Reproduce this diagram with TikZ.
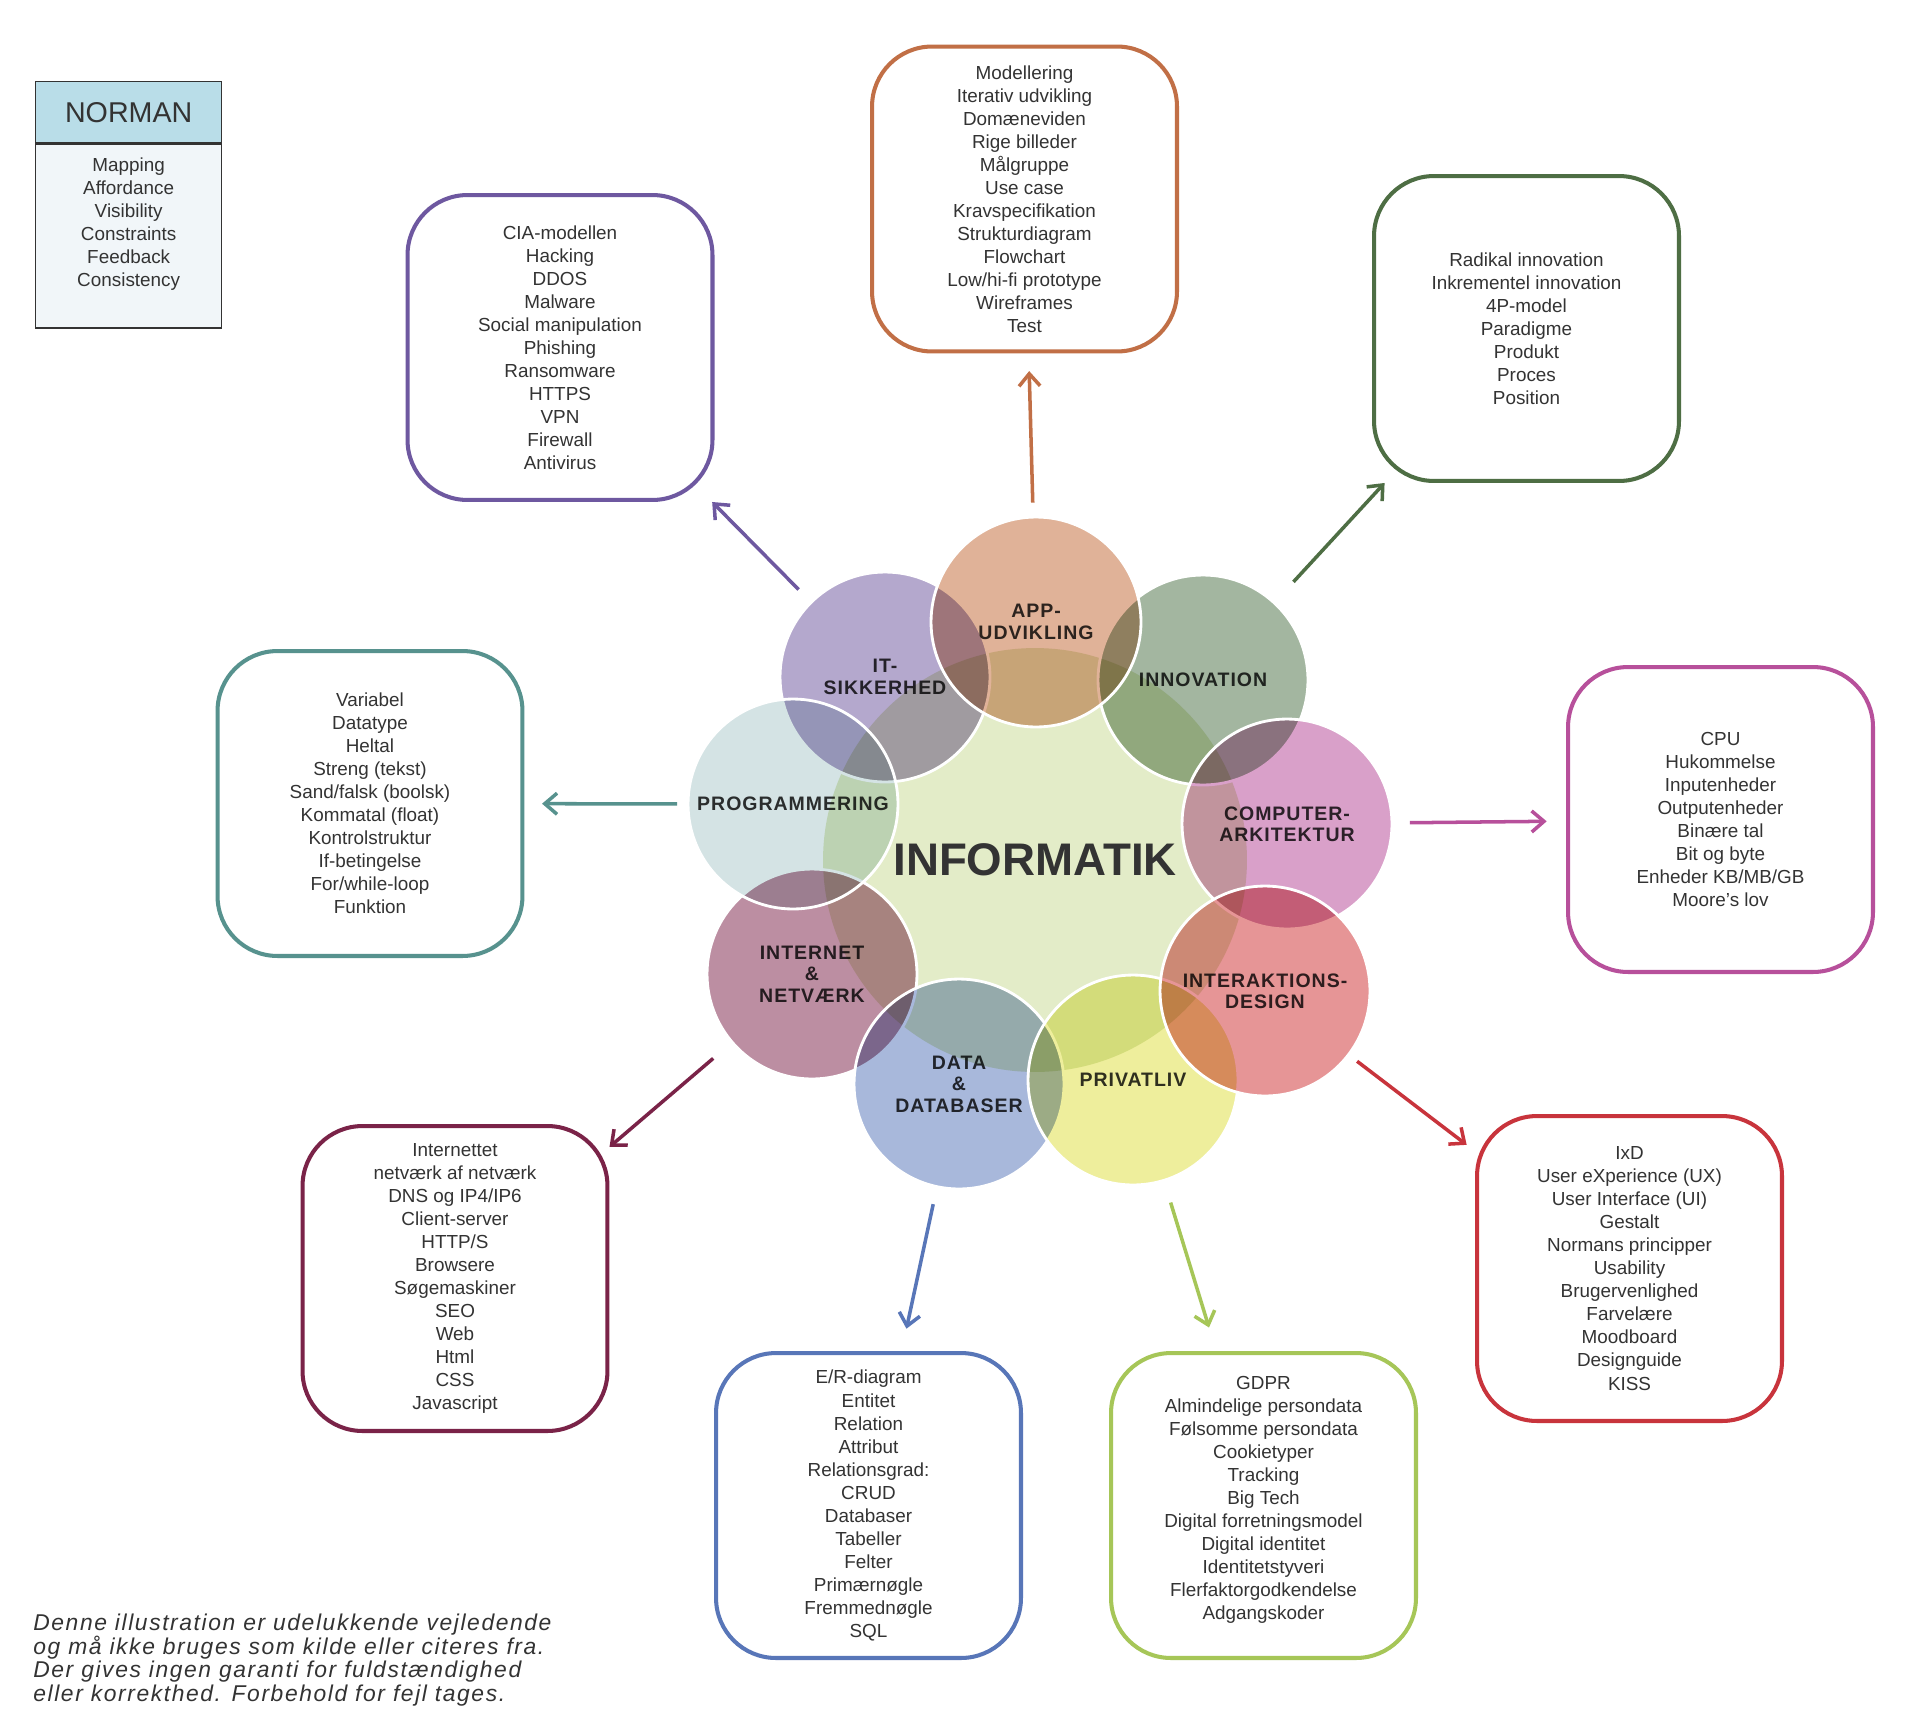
\documentclass[tikz,border=0pt]{standalone}
\usepackage{fontspec}
\setmainfont{Liberation Sans}
\newfontfamily\circfont[LetterSpace=5]{Liberation Sans}
\newfontfamily\notefont[LetterSpace=7]{Liberation Sans}
\usetikzlibrary{arrows.meta}

\definecolor{txt}{HTML}{333333}
\definecolor{itc}{HTML}{6E58A0}
\definecolor{itf}{HTML}{B4A8CD}
\definecolor{appc}{HTML}{C16F46}
\definecolor{appf}{HTML}{E0B298}
\definecolor{innoc}{HTML}{4E6E44}
\definecolor{innof}{HTML}{A3B6A0}
\definecolor{compc}{HTML}{B7509B}
\definecolor{compf}{HTML}{D9A0C9}
\definecolor{ixdc}{HTML}{C8343C}
\definecolor{ixdf}{HTML}{E69596}
\definecolor{privc}{HTML}{A6C658}
\definecolor{privf}{HTML}{EEEE9C}
\definecolor{datac}{HTML}{5876B8}
\definecolor{dataf}{HTML}{A8B8DB}
\definecolor{netc}{HTML}{7A2348}
\definecolor{netf}{HTML}{BC8EA2}
\definecolor{progc}{HTML}{57928E}
\definecolor{progf}{HTML}{D4E3E4}
\definecolor{infof}{HTML}{E3ECC8}
\definecolor{normhead}{HTML}{B9DDE8}
\definecolor{normbody}{HTML}{F1F6F9}

\tikzset{
    topic/.style={shape=circle, fill=#1, minimum size=4.2cm, inner sep=0pt, blend mode=multiply, text=txt, align=center, font=\circfont\bfseries\fontsize{11.1}{12.2}\selectfont, postaction={draw=white, line width=1.6pt, blend mode=normal}},
    listbox/.style={shape=rectangle, draw=#1, fill=white, line width=2.3pt, rounded corners=1.2cm, minimum width=6.1cm, minimum height=6.1cm, align=center, text=txt, font=\fontsize{10.75}{13.1}\selectfont},
    link/.style={draw=#1, line width=2pt, -{Straight Barb[length=7pt, width=12pt]}}
}

\begin{document}
\begin{tikzpicture}[x=0.02cm, y=-0.02cm]
        \path[fill=white, use as bounding box] (0, 0) rectangle (1916, 1721);
        % centre
        \node[name=info, shape=circle, fill=infof, minimum size=8.48cm, inner sep=0pt, text=txt, font=\bfseries\fontsize{26}{30}\selectfont] at (1035, 860) {INFORMATIK};
        \node[name=it, topic=itf] at (885, 677) {IT-\\SIKKERHED};
        \node[name=net, topic=netf] at (812, 974) {INTERNET\\\&\\NETVÆRK};
        \node[name=data, topic=dataf] at (959, 1084) {DATA\\\&\\DATABASER};
        \node[name=priv, topic=privf] at (1133, 1080) {PRIVATLIV};
        \node[name=inno, topic=innof] at (1203, 680) {INNOVATION};
        \node[name=app, topic=appf] at (1036, 622) {APP-\\UDVIKLING};
        \node[name=prog, topic=progf] at (793, 804) {PROGRAMMERING};
        \node[name=comp, topic=compf] at (1287, 824) {COMPUTER-\\ARKITEKTUR};
        \node[name=ixd, topic=ixdf] at (1265, 991) {INTERAKTIONS-\\DESIGN};
        % boxes
        \node[name=appbox, listbox=appc] at (1024.5, 199) {Modellering\\Iterativ udvikling\\Domæneviden\\Rige billeder\\Målgruppe\\Use case\\Kravspecifikation\\Strukturdiagram\\Flowchart\\Low/hi-fi prototype\\Wireframes\\Test};
        \node[name=itbox, listbox=itc] at (560, 347.5) {CIA-modellen\\Hacking\\DDOS\\Malware\\Social manipulation\\Phishing\\Ransomware\\HTTPS\\VPN\\Firewall\\Antivirus};
        \node[name=innobox, listbox=innoc] at (1526.5, 328.5) {Radikal innovation\\Inkrementel innovation\\4P-model\\Paradigme\\Produkt\\Proces\\Position};
        \node[name=progbox, listbox=progc] at (370, 803.5) {Variabel\\Datatype\\Heltal\\Streng (tekst)\\Sand/falsk (boolsk)\\Kommatal (float)\\Kontrolstruktur\\If-betingelse\\For/while-loop\\Funktion};
        \node[name=compbox, listbox=compc] at (1720.5, 819.5) {CPU\\Hukommelse\\Inputenheder\\Outputenheder\\Binære tal\\Bit og byte\\Enheder KB/MB/GB\\Moore’s lov};
        \node[name=netbox, listbox=netc] at (455, 1278.5) {Internettet\\netværk af netværk\\DNS og IP4/IP6\\Client-server\\HTTP/S\\Browsere\\Søgemaskiner\\SEO\\Web\\Html\\CSS\\Javascript};
        \node[name=databox, listbox=datac] at (868.5, 1505.5) {E/R-diagram\\Entitet\\Relation\\Attribut\\Relationsgrad:\\CRUD\\Databaser\\Tabeller\\Felter\\Primærnøgle\\Fremmednøgle\\SQL};
        \node[name=privbox, listbox=privc, text depth=9pt] at (1263.5, 1505.5) {GDPR\\Almindelige persondata\\Følsomme persondata\\Cookietyper\\Tracking\\Big Tech\\Digital forretningsmodel\\Digital identitet\\Identitetstyveri\\Flerfaktorgodkendelse\\Adgangskoder};
        \node[name=ixdbox, listbox=ixdc] at (1629.5, 1268.5) {IxD\\User eXperience (UX)\\User Interface (UI)\\Gestalt\\Normans principper\\Usability\\Brugervenlighed\\Farvelære\\Moodboard\\Designguide\\KISS};
        % arrows
        \draw[link=itc, shorten <=10pt] (it) -- (itbox);
        \draw[link=appc, shorten <=8pt, shorten >=10pt] (app) -- (appbox);
        \draw[link=innoc, shorten <=16pt] (inno) -- (innobox);
        \draw[link=compc, shorten <=10pt, shorten >=11pt] (comp) -- (compbox);
        \draw[link=ixdc, shorten <=6pt, shorten >=6pt] (ixd) -- (ixdbox);
        \draw[link=privc, shorten <=13pt, shorten >=14pt] (priv) -- (privbox);
        \draw[link=datac, shorten <=10pt, shorten >=13pt] (data) -- (databox);
        \draw[link=netc, shorten <=14pt] (net) -- (netbox);
        \draw[link=progc, shorten <=6pt, shorten >=10pt] (prog) -- (progbox);
        % norman
        \node[name=normhd, shape=rectangle, draw=txt, fill=normhead, line width=0.8pt, minimum width=3.72cm, minimum height=1.22cm, anchor=north west, text=txt, font=\fontsize{16.3}{19}\selectfont] at (35, 81) {NORMAN};
        \node[name=normbd, shape=rectangle, draw=txt, fill=normbody, line width=0.8pt, minimum width=3.72cm, minimum height=3.68cm, anchor=north, align=center, text depth=16pt, text=txt, font=\fontsize{10.75}{13.1}\selectfont] at (normhd.south) {Mapping\\Affordance\\Visibility\\Constraints\\Feedback\\Consistency};
        \node[name=note, anchor=west, align=left, inner sep=0pt, text=txt, font=\notefont\itshape\fontsize{13}{13.4}\selectfont] at (33, 1660) {Denne illustration er udelukkende vejledende\\og må ikke bruges som kilde eller citeres fra.\\Der gives ingen garanti for fuldstændighed\\eller korrekthed. Forbehold for fejl tages.};
\end{tikzpicture}
\end{document}
